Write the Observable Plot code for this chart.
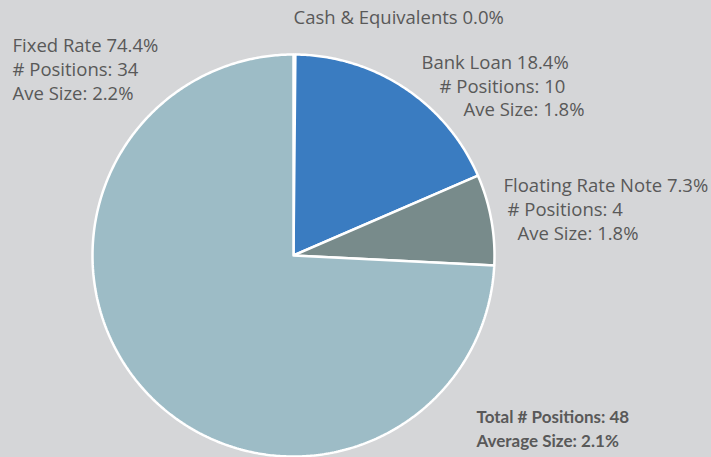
<!DOCTYPE html>
<html><head><meta charset="utf-8">
<script src="https://cdn.jsdelivr.net/npm/d3@7"></script>
<script src="https://cdn.jsdelivr.net/npm/@observablehq/plot@0.6"></script>
<style>
html,body{margin:0;padding:0;background:#d5d6d8;}
#chart{width:711px;height:457px;}
</style></head>
<body><div id="chart"></div>
<script>
// Data
const categories = ["Cash & Equivalents", "Bank Loan", "Floating Rate Note", "Fixed Rate"];
const shares = [0.15, 18.4, 7.3, 74.4];           // slice sizes (cash is a thin sliver)
const labelShares = ["0.0%", "18.4%", "7.3%", "74.4%"];
const positions = [null, 10, 4, 34];
const aveSizes = [null, "1.8%", "1.8%", "2.2%"];
const totalPositions = 48;
const averageSize = "2.1%";
const colors = ["#1f3d6e", "#3a7cc1", "#788b8b", "#9dbcc6"];

// Build slice polygons from d3.pie angles
const pie = d3.pie().sort(null).value(d => d.v)(categories.map((c, i) => ({c, v: shares[i]})));
const pts = [];
pie.forEach(s => {
  const c = s.data.c;
  pts.push({c, x: 0, y: 0});
  const n = Math.max(2, Math.ceil((s.endAngle - s.startAngle) / 0.01));
  for (let k = 0; k <= n; k++) {
    const a = s.startAngle + (s.endAngle - s.startAngle) * k / n;
    pts.push({c, x: Math.sin(a), y: Math.cos(a)});
  }
  pts.push({c, x: 0, y: 0});
});

const txt = (s, dx, dy, bold) => Plot.text([s], {
  text: d => d, frameAnchor: "top-left", dx, dy, textAnchor: "start", lineAnchor: "middle",
  fill: "#595959",
  fontSize: bold ? 17 : 18.5,
  fontFamily: bold ? "Lato, sans-serif" : "'Open Sans', sans-serif",
  fontWeight: bold ? "bold" : "normal"
});

const chart = Plot.plot({
  width: 711, height: 457,
  margin: 0,
  style: {background: "#d5d6d8"},
  x: {domain: [-1, 1], range: [92, 494], axis: null},
  y: {domain: [-1, 1], range: [456, 54], axis: null},
  color: {domain: categories, range: colors},
  marks: [
    Plot.line(pts, {x: "x", y: "y", z: "c", fill: "c", stroke: "white", strokeWidth: 2.5, strokeLinejoin: "miter", curve: "linear"}),
    txt(`${categories[0]} ${labelShares[0]}`, 293, 18),
    txt(`${categories[3]} ${labelShares[3]}`, 12, 46),
    txt(`# Positions: ${positions[3]}`, 12, 70),
    txt(`Ave Size: ${aveSizes[3]}`, 12, 94),
    txt(`${categories[1]} ${labelShares[1]}`, 421, 63),
    txt(`# Positions: ${positions[1]}`, 439, 87),
    txt(`Ave Size: ${aveSizes[1]}`, 463, 110),
    txt(`${categories[2]} ${labelShares[2]}`, 503, 186),
    txt(`# Positions: ${positions[2]}`, 507, 210),
    txt(`Ave Size: ${aveSizes[2]}`, 517, 234),
    txt(`Total # Positions: ${totalPositions}`, 476, 417, true),
    txt(`Average Size: ${averageSize}`, 476, 441, true)
  ]
});
document.getElementById("chart").appendChild(chart);
</script></body></html>
